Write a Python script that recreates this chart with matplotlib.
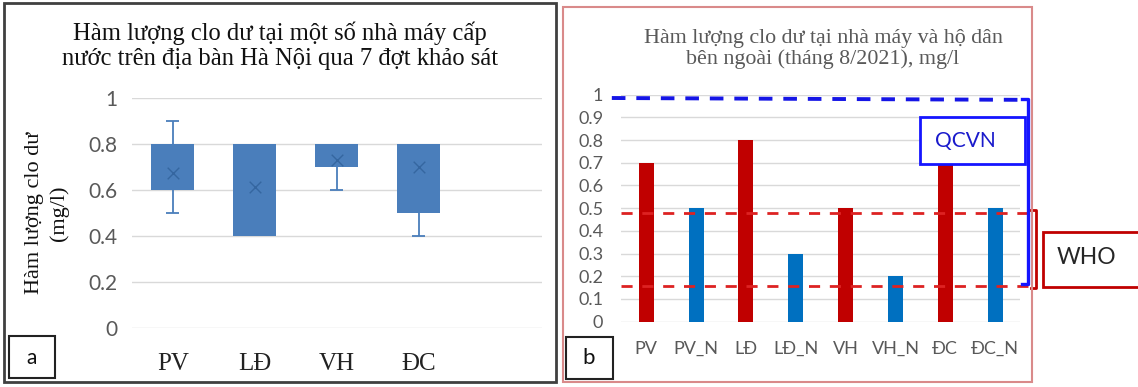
import matplotlib.pyplot as plt
from matplotlib.patches import Rectangle

# Panel a: box plot stats
plants = ["PV", "LĐ", "VH", "ĐC"]
q1 = [0.6, 0.4, 0.7, 0.5]
q3 = [0.8, 0.8, 0.8, 0.8]
whis_lo = [0.5, 0.4, 0.6, 0.4]
whis_hi = [0.9, 0.8, 0.8, 0.8]
means = [0.674, 0.613, 0.732, 0.70]

# Panel b: bar values
sites = ["PV", "PV_N", "LĐ", "LĐ_N", "VH", "VH_N", "ĐC", "ĐC_N"]
chlorine = [0.7, 0.5, 0.8, 0.3, 0.5, 0.2, 0.7, 0.5]
site_colors = ["#C00000", "#0070C0"] * 4

# limit lines as drawn on panel b
qcvn_top = 0.98
who_top = 0.48
who_bottom = 0.157

W, H = 1138, 387
fig = plt.figure(figsize=(W / 100, H / 100), dpi=100)


def fx(px):
    return px / W


def fy(py):
    return 1 - py / H


def box(x0, y0, x1, y1, **kw):
    fig.add_artist(Rectangle((fx(x0), fy(y1)), (x1 - x0) / W, (y1 - y0) / H,
                             transform=fig.transFigure, **kw))


serif = "Liberation Serif"
sans = "Lato"

# ---------------- panel a ----------------
ax1 = fig.add_axes([fx(131.7), fy(328.3), 410 / W, 230 / H])
box_col = "#4A7EBB"
xs = range(len(plants))
for i in xs:
    ax1.vlines(i, whis_lo[i], whis_hi[i], color=box_col, lw=1.3, zorder=2)
    if whis_lo[i] < q1[i]:
        ax1.hlines(whis_lo[i], i - 0.08, i + 0.08, color=box_col, lw=1.3, zorder=2)
    if whis_hi[i] > q3[i]:
        ax1.hlines(whis_hi[i], i - 0.08, i + 0.08, color=box_col, lw=1.3, zorder=2)
ax1.bar(xs, [a - b for a, b in zip(q3, q1)], bottom=q1, width=0.52,
        color=box_col, zorder=3)
ax1.scatter(xs, means, marker="x", s=70, color="#3566A0", linewidths=1.0, zorder=4)
ax1.set_xlim(-0.5, 4.5)
ax1.set_ylim(0, 1)
ax1.set_yticks([0, 0.2, 0.4, 0.6, 0.8, 1])
ax1.set_yticklabels(["0", "0.2", "0.4", "0.6", "0.8", "1"])
ax1.set_xticks(list(xs))
ax1.set_xticklabels(plants, fontfamily=serif, fontsize=18, color="#222222")
for lab in ax1.get_yticklabels():
    lab.set_fontfamily(sans)
    lab.set_fontsize(15)
    lab.set_color("#595959")
ax1.tick_params(axis="y", length=0, pad=10)
ax1.tick_params(axis="x", length=0, pad=18)
ax1.grid(axis="y", color="#D9D9D9", lw=1)
ax1.set_axisbelow(True)
for s in ax1.spines.values():
    s.set_visible(False)

fig.text(fx(280), fy(46), "Hàm lượng clo dư tại một số nhà máy cấp\nnước trên địa bàn Hà Nội qua 7 đợt khảo sát",
         ha="center", va="center", fontfamily=serif, fontsize=17.7, linespacing=1.15,
         color="#111111")
fig.text(fx(47), fy(213), "Hàm lượng clo dư\n(mg/l)", rotation=90, ha="center",
         va="center", fontfamily=serif, fontsize=16, linespacing=1.3, color="#111111")

box(4, 3, 556, 382, fill=False, ec="#404040", lw=2)
box(9, 336, 55, 378, fill=False, ec="#222222", lw=1.5)
fig.text(fx(32), fy(358), "a", ha="center", va="center", fontfamily=sans,
         fontsize=15, color="#111111")

# ---------------- panel b ----------------
ax2 = fig.add_axes([fx(621.4), fy(321.7), 398.6 / W, 227.1 / H])
ax2.bar(range(len(sites)), chlorine, width=0.3, color=site_colors, zorder=3)
ax2.set_xlim(-0.5, len(sites) - 0.5)
ax2.set_ylim(0, 1)
yt = [i / 10 for i in range(11)]
ax2.set_yticks(yt)
ax2.set_yticklabels(["0"] + ["%.1f" % v for v in yt[1:-1]] + ["1"])
ax2.set_xticks(range(len(sites)))
ax2.set_xticklabels(sites)
ax2.tick_params(length=0, labelcolor="#595959")
ax2.tick_params(axis="y", pad=13, labelsize=13)
ax2.tick_params(axis="x", pad=14, labelsize=13)
for lab in ax2.get_xticklabels() + ax2.get_yticklabels():
    lab.set_fontfamily(sans)
ax2.grid(axis="y", color="#D9D9D9", lw=1)
ax2.set_axisbelow(True)
for s in ax2.spines.values():
    s.set_visible(False)

tr = ax2.get_yaxis_transform()
ax2.plot([-0.024, 1.0], [qcvn_top + 0.005, qcvn_top - 0.003], transform=tr,
         color="#1515E6", lw=2.8, ls=(0, (3.5, 2.8)), clip_on=False, zorder=5)
for yv in (who_top, who_bottom):
    ax2.plot([0.0, 1.025], [yv, yv], transform=tr, color="#DD2222", lw=2,
             ls=(0, (4, 3.5)), clip_on=False, zorder=5)
# QCVN bracket
ax2.plot([1.006, 1.019, 1.019, 1.006], [qcvn_top, qcvn_top, who_bottom + 0.01, who_bottom + 0.01],
         transform=tr, color="#1515FF", lw=2.4, clip_on=False, zorder=6)
# WHO bracket
ax2.plot([1.028, 1.040, 1.040, 1.028], [who_top + 0.01, who_top + 0.01, who_bottom - 0.01, who_bottom - 0.01],
         transform=tr, color="#C00000", lw=2, clip_on=False, zorder=6)

fig.text(fx(823), fy(49), "Hàm lượng clo dư tại nhà máy và hộ dân\nbên ngoài (tháng 8/2021), mg/l",
         ha="center", va="center", fontfamily=serif, fontsize=15.8, linespacing=1.15,
         color="#595959")

box(563, 7, 1031.7, 381.7, fill=False, ec="#D98A8A", lw=1.5)
box(566, 337, 612.7, 379, fill=False, ec="#222222", lw=1.5)
fig.text(fx(589), fy(358), "b", ha="center", va="center", fontfamily=sans,
         fontsize=16, color="#111111")

box(920, 117, 1025, 164, fc="white", ec="#1515FF", lw=2, zorder=7)
fig.text(fx(965), fy(141), "QCVN", ha="center", va="center", fontfamily=sans,
         fontsize=15, color="#1a1acc", zorder=8)

box(1043.3, 232.3, 1140, 287.3, fc="white", ec="#C00000", lw=2)
fig.text(fx(1086.7), fy(257), "WHO", ha="center", va="center", fontfamily=sans,
         fontsize=16.5, color="#262626")

fig.savefig("out.png", dpi=100)
